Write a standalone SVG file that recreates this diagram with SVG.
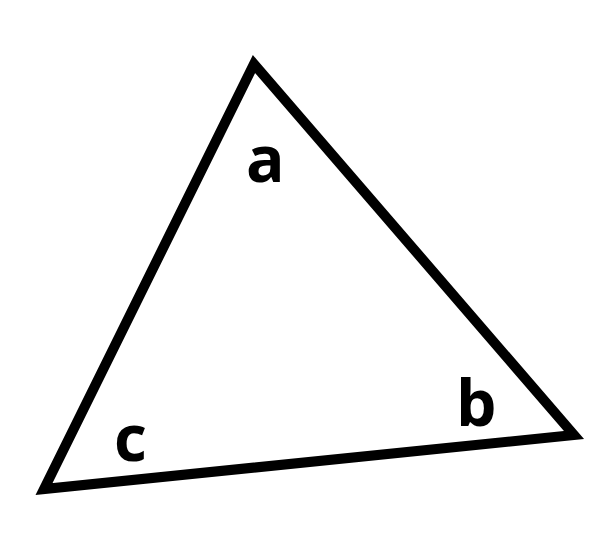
<svg xmlns="http://www.w3.org/2000/svg" width="610" height="550" viewBox="0 0 610 550">
<style>
.edge{fill:none;stroke:#000;stroke-width:10;stroke-linejoin:miter;stroke-miterlimit:20}
.lbl{font-family:"Open Sans","Liberation Sans",sans-serif;font-weight:bold;font-size:64px;fill:#000}
</style>
<rect width="610" height="550" fill="#fff"/>
<g id="connectors">
<polygon class="edge" points="254,64 574,435 44,489"/>
</g>
<g id="node-a"><text class="lbl" x="246" y="182">a</text></g>
<g id="node-b"><text class="lbl" x="456" y="426">b</text></g>
<g id="node-c"><text class="lbl" x="114" y="461">c</text></g>
</svg>
